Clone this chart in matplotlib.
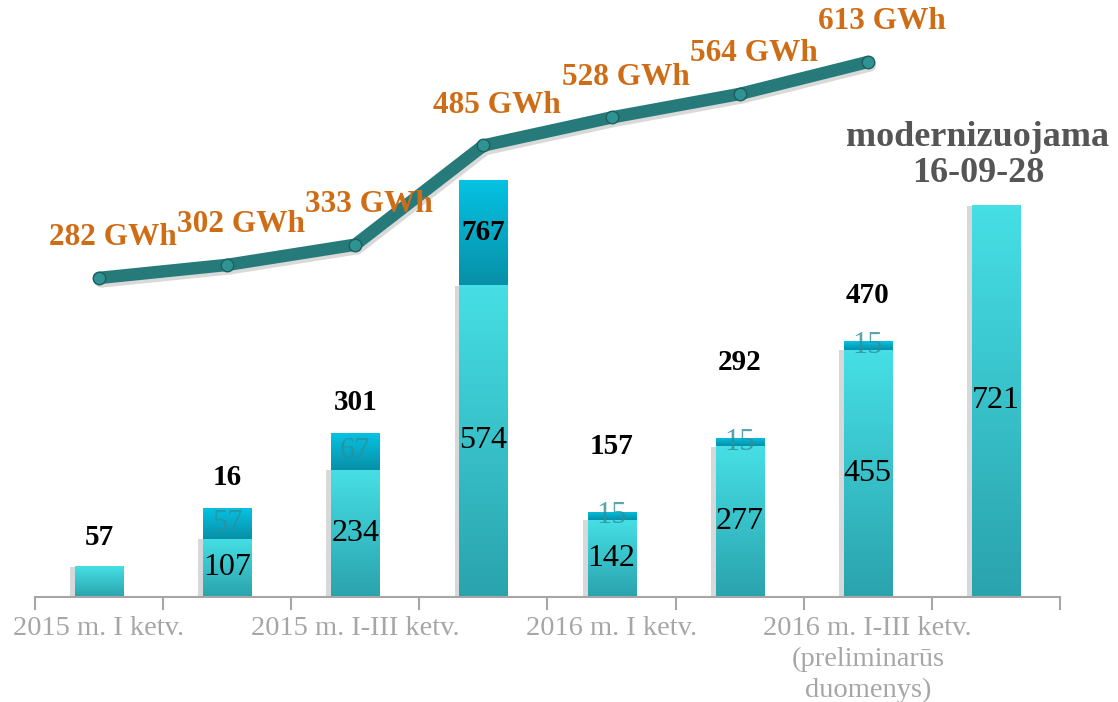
import numpy as np
import matplotlib
matplotlib.use("Agg")
import matplotlib.pyplot as plt
import matplotlib.patheffects as pe
from matplotlib.colors import LinearSegmentedColormap

# Data
base_vals = [57, 107, 234, 574, 142, 277, 455, 721]
base_text = ["", "107", "234", "574", "142", "277", "455", "721"]
top_vals = [0, 57, 67, 193, 15, 15, 15, 0]
top_text = ["", "57", "67", "", "15", "15", "15", ""]
total_text = ["57", "16", "301", "767", "157", "292", "470", ""]
gwh = [282, 302, 333, 485, 528, 564, 613]
xlabels = ["2015 m. I ketv.", "2015 m. I-III ketv.", "2016 m. I ketv.",
           "2016 m. I-III ketv.\n(preliminarūs\nduomenys)"]
note = "modernizuojama\n16-09-28"

# where the total labels sit (data units of the bar axis)
total_y = [110, 219, 357, 670, 276, 432, 555, 0]

plt.rcParams['font.family'] = ['Liberation Serif', 'DejaVu Serif']

fig = plt.figure(figsize=(11.18, 7.02), dpi=100)
ax = fig.add_axes([0.0313, 0.1496, 0.9168, 0.8504])
ax2 = ax.twinx()

x = np.arange(len(base_vals))
w = 0.375

cm_base = LinearSegmentedColormap.from_list("b", ["#2aa3ad", "#46dfe5"])
cm_top = LinearSegmentedColormap.from_list("t", ["#0890a8", "#05c2e2"])
grad = np.linspace(0, 1, 100).reshape(-1, 1)

shadow = [pe.SimplePatchShadow(offset=(-3.5, -0.5), shadow_rgbFace="#808080", alpha=0.3), pe.Normal()]

bars1 = ax.bar(x, base_vals, w, color="#3cc8d0", zorder=2, path_effects=shadow)
bars2 = ax.bar(x, top_vals, w, bottom=base_vals, color="#06a8c6", zorder=2)

for bars, cmap in ((bars1, cm_base), (bars2, cm_top)):
    for b in bars:
        if b.get_height() <= 0:
            continue
        x0, y0 = b.get_x(), b.get_y()
        im = ax.imshow(grad, extent=[x0, x0 + b.get_width(), y0, y0 + b.get_height()],
                       origin="lower", aspect="auto", cmap=cmap, zorder=2.5)
        im.set_clip_path(b)

for i in range(len(x)):
    if base_text[i]:
        ax.text(x[i], base_vals[i] / 2, base_text[i], ha="center", va="center",
                fontsize=23, color="black", zorder=4)
    if top_text[i]:
        ax.text(x[i], base_vals[i] + top_vals[i] / 2, top_text[i], ha="center", va="center",
                fontsize=22, color="#2f8f99", alpha=0.8, zorder=4)
    if total_text[i]:
        ax.text(x[i], total_y[i], total_text[i], ha="center", va="center",
                fontsize=21, fontweight="bold", color="black", zorder=4)

ax.text(6.86, 812, note, ha="center", va="center", fontsize=26, fontweight="bold",
        color="#555555", linespacing=1.15, clip_on=False, zorder=4)

ax.set_xlim(-0.5, 7.5)
ax.set_ylim(0, 1098)

# line on the secondary axis
xl = np.arange(len(gwh))
ax2.plot(xl, gwh, color="#267a7a", lw=9, solid_capstyle="round", zorder=3,
         path_effects=[pe.SimpleLineShadow(offset=(1.5, -2.5), alpha=0.15), pe.Normal()])
ax2.plot(xl, gwh, "o", ms=9, mfc="#2f9393", mec="#1d5e5e", mew=1, zorder=4)
for xi, v in zip(xl, gwh):
    ax2.annotate(f"{v} GWh", (xi, v), xytext=(14, 40), textcoords="offset pixels",
                 ha="center", va="center", fontsize=22.5, fontweight="bold", color="#cf6d17")
ax2.set_ylim(-207, 708)
ax2.set_xlim(-0.5, 7.5)

ax.set_zorder(1)
ax2.set_zorder(2)
ax.patch.set_visible(False)

for a in (ax, ax2):
    for s in ("top", "right", "left"):
        a.spines[s].set_visible(False)
    a.set_yticks([])
ax2.spines["bottom"].set_visible(False)
ax.spines["bottom"].set_color("#a6a6a6")
ax.spines["bottom"].set_linewidth(1.5)

ax.set_xticks(x[::2])
ax.set_xticklabels(xlabels, fontsize=20.5, color="#a6a6a6", linespacing=1.3)
ax.tick_params(axis="x", which="major", length=0, pad=14)
ax.set_xticks(np.arange(-0.5, 8, 1), minor=True)
ax.tick_params(axis="x", which="minor", length=9, color="#a6a6a6", width=1.5)

fig.savefig("out.png", dpi=100)
